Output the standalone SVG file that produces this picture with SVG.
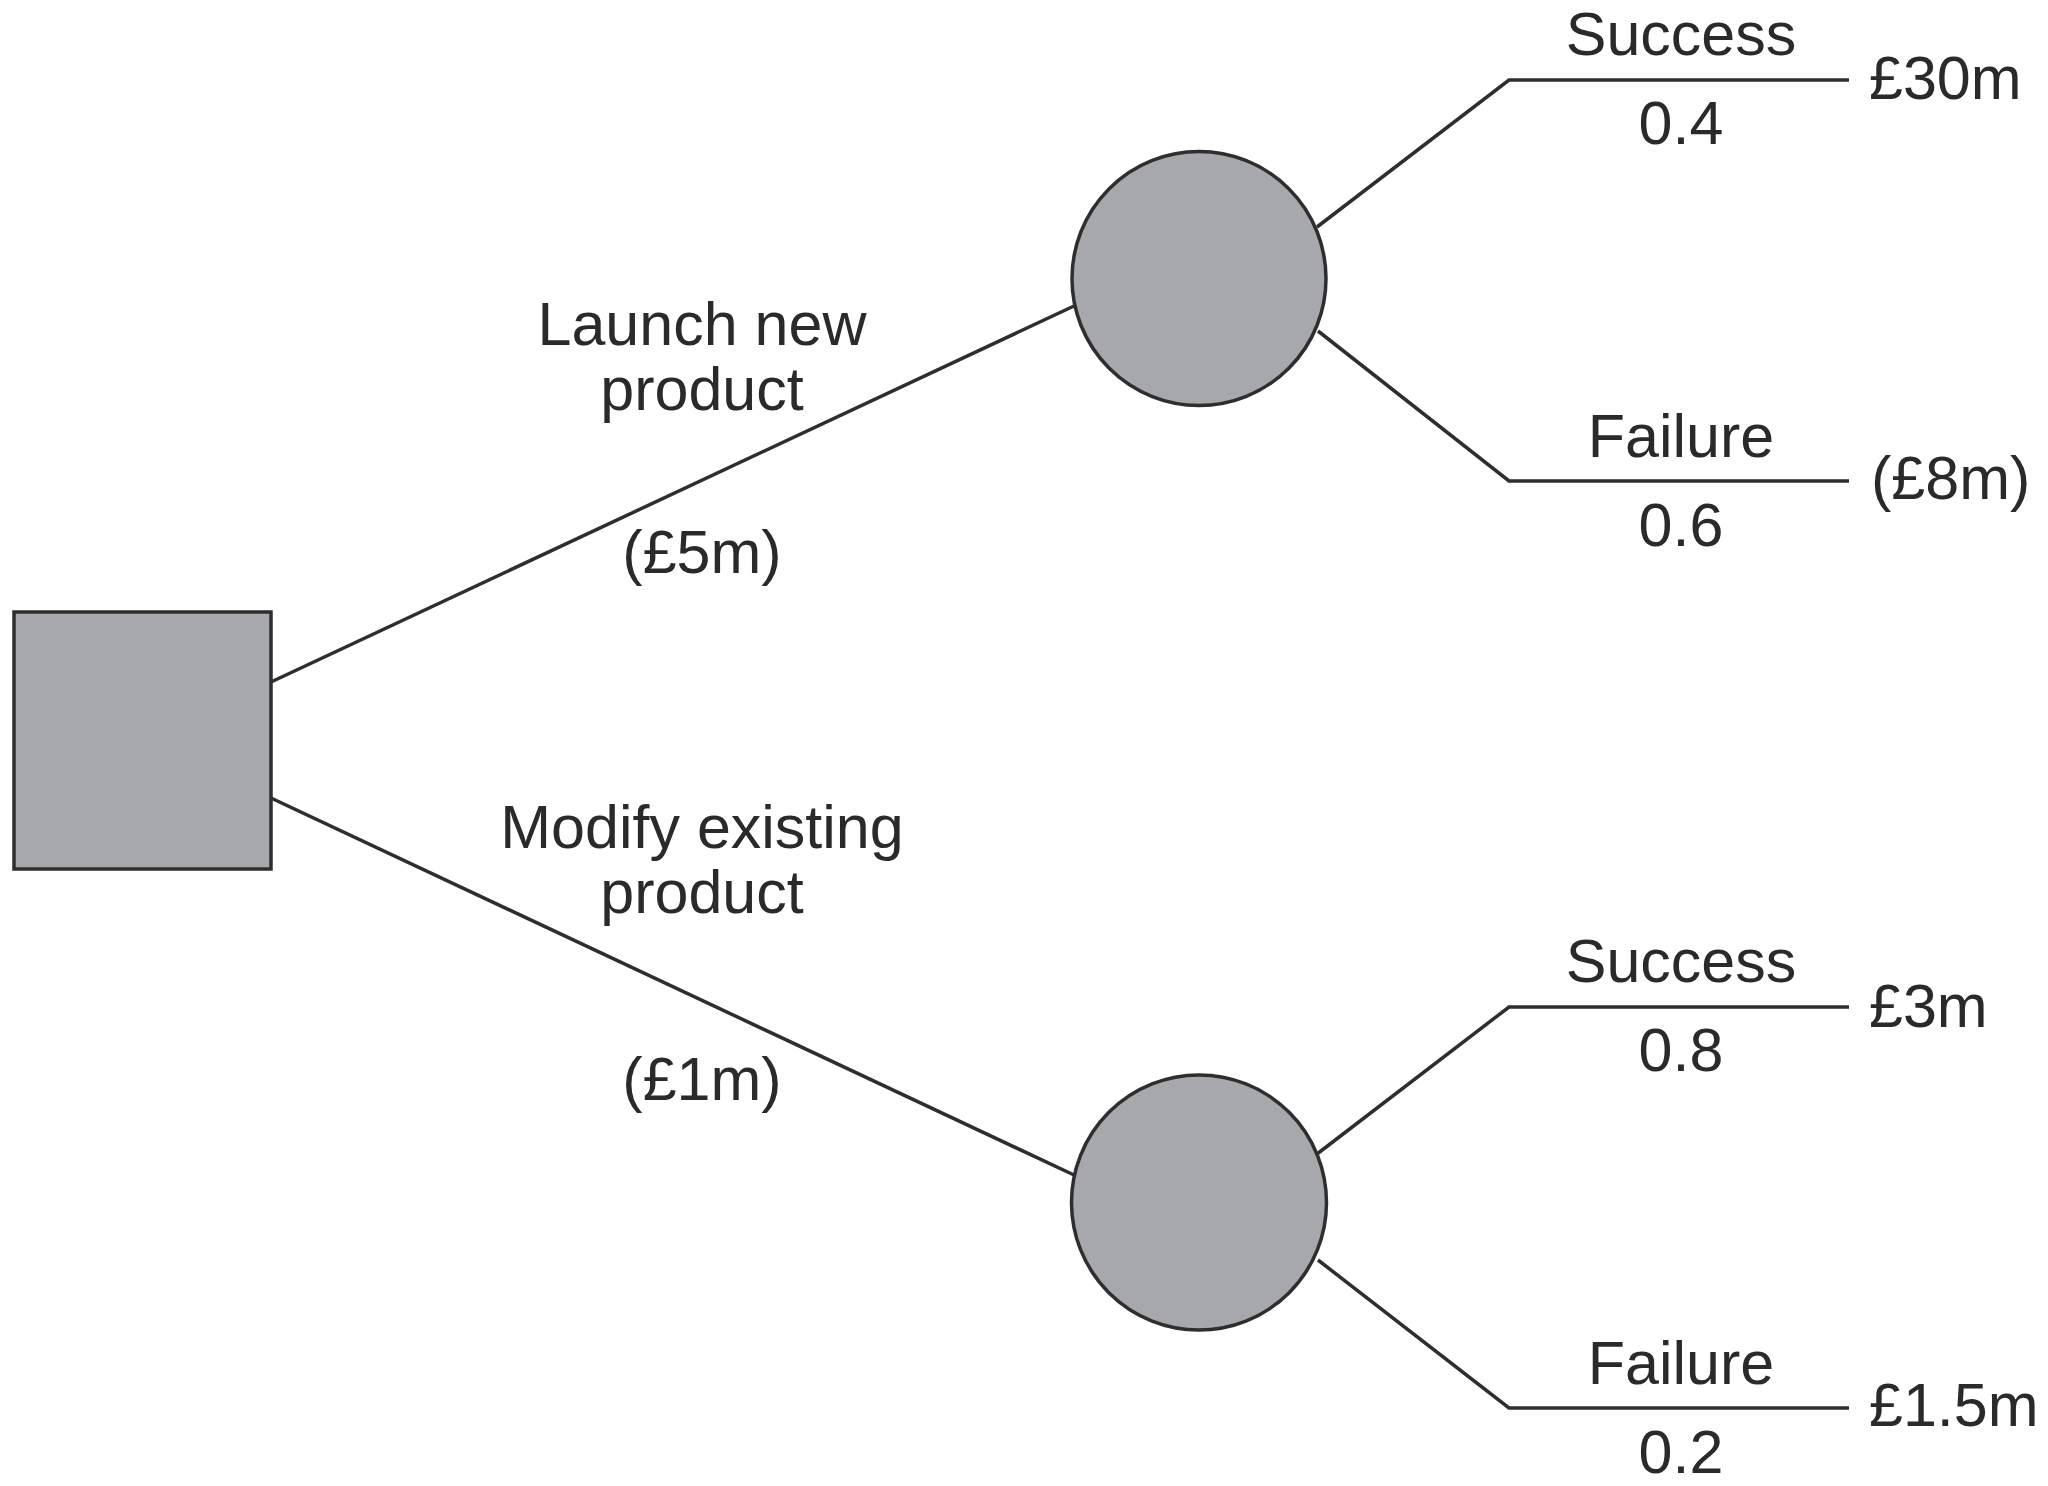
<svg xmlns="http://www.w3.org/2000/svg" width="2048" height="1486" viewBox="0 0 2048 1486">
<style>
.node{fill:#a7a8ac;stroke:#2e2e2e;stroke-width:3.5}
.conn{fill:none;stroke:#2e2e2e;stroke-width:3.5;stroke-linejoin:miter}
text{font-family:"Liberation Sans",Arial,sans-serif;font-size:61px;fill:#2a2a2a}
.c{text-anchor:middle}
</style>
<rect width="2048" height="1486" fill="#ffffff"/>
<g id="connectors">
<line class="conn" x1="271" y1="682" x2="1074" y2="306"/>
<line class="conn" x1="271" y1="798" x2="1074" y2="1175"/>
<polyline class="conn" points="1317,227 1509,80 1849,80"/>
<polyline class="conn" points="1318,331 1509,481 1849,481"/>
<polyline class="conn" points="1317,1154 1509,1007 1849,1007"/>
<polyline class="conn" points="1318,1260 1509,1408 1849,1408"/>
</g>
<g id="decision">
<rect class="node" x="14" y="612" width="257" height="257"/>
</g>
<g id="chance1">
<circle class="node" cx="1199" cy="278.5" r="127"/>
</g>
<g id="chance2">
<circle class="node" cx="1199" cy="1202.5" r="127.5"/>
</g>
<g id="labels">
<text class="c" x="702" y="345">Launch new</text>
<text class="c" x="702" y="410">product</text>
<text class="c" x="702" y="573">(£5m)</text>
<text class="c" x="702" y="848">Modify existing</text>
<text class="c" x="702" y="913">product</text>
<text class="c" x="702" y="1100">(£1m)</text>
<text class="c" x="1681" y="55">Success</text>
<text class="c" x="1681" y="144">0.4</text>
<text x="1869" y="99">£30m</text>
<text class="c" x="1681" y="457">Failure</text>
<text class="c" x="1681" y="546">0.6</text>
<text x="1871" y="499">(£8m)</text>
<text class="c" x="1681" y="982">Success</text>
<text class="c" x="1681" y="1071">0.8</text>
<text x="1869" y="1027">£3m</text>
<text class="c" x="1681" y="1384">Failure</text>
<text class="c" x="1681" y="1473">0.2</text>
<text x="1869" y="1426">£1.5m</text>
</g>
</svg>
